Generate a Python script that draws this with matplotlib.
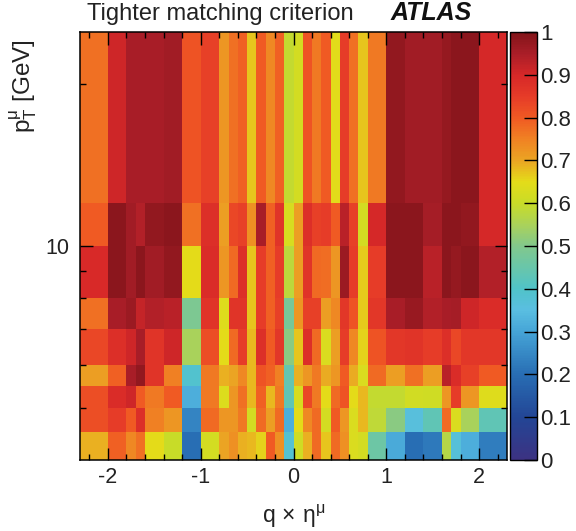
import numpy as np
import matplotlib
matplotlib.use("Agg")
import matplotlib.pyplot as plt
from matplotlib.colors import LinearSegmentedColormap
from matplotlib.ticker import FixedLocator, FixedFormatter, NullFormatter

plt.rcParams['font.family'] = ['Liberation Sans', 'DejaVu Sans']
plt.rcParams['mathtext.fontset'] = 'custom'
plt.rcParams['mathtext.rm'] = 'Liberation Sans'
plt.rcParams['mathtext.it'] = 'Liberation Sans'
plt.rcParams['mathtext.default'] = 'rm'

eta_edges = [-2.3, -2.0, -1.8, -1.7, -1.6, -1.4, -1.2, -1.0, -0.8, -0.7, -0.6, -0.5, -0.4, -0.3, -0.2, -0.1, 0.0,
             0.1, 0.2, 0.3, 0.4, 0.5, 0.6, 0.7, 0.8, 1.0, 1.2, 1.4, 1.6, 1.7, 1.8, 2.0, 2.3]
pt_edges = [4, 4.5, 5, 5.5, 6, 7, 8, 10, 12, 25]

# efficiency per pt bin
pt_4_45 = [.69, .79, .74, .77, .65, .60, .20, .62, .70, .73, .69, .68, .66, .80, .73, .38,
           .61, .69, .78, .67, .78, .73, .63, .62, .46, .31, .20, .22, .57, .37, .32, .23]
pt_45_5 = [.82, .85, .80, .88, .75, .72, .24, .78, .72, .72, .76, .62, .78, .71, .78, .32,
           .65, .74, .78, .62, .80, .72, .63, .68, .585, .51, .36, .43, .78, .63, .55, .43]
pt_5_55 = [.82, .89, .91, .80, .76, .80, .32, .76, .635, .72, .77, .68, .79, .68, .76, .43,
           .625, .83, .76, .65, .78, .81, .65, .68, .59, .59, .615, .61, .72, .85, .72, .64]
pt_55_6 = [.71, .79, .95, .98, .87, .75, .39, .76, .69, .70, .74, .68, .81, .79, .75, .44,
           .69, .72, .76, .695, .72, .80, .695, .63, .78, .71, .77, .71, .93, .89, .84, .80]
pt_6_7 = [.83, .88, .91, .95, .87, .91, .55, .82, .65, .78, .85, .68, .88, .80, .86, .51,
          .67, .88, .78, .63, .71, .85, .74, .66, .81, .86, .87, .85, .88, .83, .86, .86]
pt_7_8 = [.77, .95, .965, .92, .94, .93, .49, .87, .64, .87, .87, .67, .85, .79, .84, .48,
          .72, .84, .84, .71, .74, .86, .81, .665, .86, .95, .97, .94, .95, .955, .91, .89]
pt_8_10 = [.895, .985, .96, .985, .96, .98, .65, .89, .72, .78, .88, .67, .85, .79, .85, .58,
           .71, .87, .78, .775, .72, .965, .85, .665, .85, .985, .985, .93, .985, .975, .985, .94]
pt_10_12 = [.80, .985, .96, .94, .98, .985, .77, .88, .71, .83, .84, .73, .95, .79, .87, .625,
            .71, .88, .84, .85, .80, .93, .84, .62, .90, .985, .985, .955, .985, .985, .98, .90]
pt_12_25 = [.77, .91, .95, .95, .95, .96, .81, .84, .72, .77, .79, .67, .80, .74, .79, .59,
            .62, .81, .76, .80, .645, .85, .77, .67, .76, .98, .96, .96, .975, .985, .985, .90]

palette_pos = [0, .1, .2, .3, .35, .4, .5, .55, .6, .65, .7, .75, .8, .85, .9, .95, 1]
palette_rgb = ['#3c3282', '#234696', '#286eb4', '#46a5d7', '#5abee1', '#50c3c8', '#82c88c', '#aad25a',
               '#c8dc28', '#e4dc19', '#eba523', '#f08223', '#f05a23', '#e63c28', '#d72828', '#aa1e28', '#821419']
cmap = LinearSegmentedColormap.from_list('atlas', list(zip(palette_pos, palette_rgb)), N=256)

eff = np.array([pt_4_45, pt_45_5, pt_5_55, pt_55_6, pt_6_7, pt_7_8, pt_8_10, pt_10_12, pt_12_25])

W, H = 576, 531
fig = plt.figure(figsize=(W / 100, H / 100), dpi=100)
ax = fig.add_axes([80 / W, 1 - 460 / H, 427 / W, 428 / H])
cax = fig.add_axes([510 / W, 1 - 460 / H, 27 / W, 428 / H])

mesh = ax.pcolormesh(eta_edges, pt_edges, eff, cmap=cmap, vmin=0, vmax=1, linewidth=0, rasterized=True)
ax.set_yscale('log')
ax.set_xlim(-2.3, 2.3)
ax.set_ylim(4, 25)

ax.xaxis.set_major_locator(FixedLocator([-2, -1, 0, 1, 2]))
ax.xaxis.set_major_formatter(FixedFormatter(['-2', '-1', '0', '1', '2']))
ax.xaxis.set_minor_locator(FixedLocator(np.arange(-22, 23, 2) / 10))
ax.yaxis.set_major_locator(FixedLocator([10]))
ax.yaxis.set_major_formatter(FixedFormatter(['10']))
ax.yaxis.set_minor_locator(FixedLocator([5, 6, 7, 8, 9, 20]))
ax.yaxis.set_minor_formatter(NullFormatter())
ax.tick_params(which='major', direction='in', top=True, right=True, length=9, width=1, labelsize=15.5, pad=5,
               labelcolor='#222222')
ax.tick_params(axis='y', which='major', pad=8)
ax.tick_params(which='minor', direction='in', top=True, right=True, length=4.5, width=1)
for s in ax.spines.values():
    s.set_linewidth(1.1)

ax.set_xlabel(r'q$\,\times\,\eta^{\mu}$', fontsize=16.5, labelpad=11, color='#222222')
ax.set_ylabel(r'p$_{\mathrm{T}}^{\mu}$ [GeV]', fontsize=17.5, y=0.982, ha='right', labelpad=4, color='#222222')
fig.text(87 / W, 1 - 20 / H, 'Tighter matching criterion', fontsize=17, color='#222222', va='baseline')
fig.text(391 / W, 1 - 20 / H, 'ATLAS', fontsize=18, fontweight='bold', style='italic', color='#111111', va='baseline')

cb = fig.colorbar(mesh, cax=cax)
cb.set_ticks(np.arange(0, 11) / 10)
cb.set_ticklabels(['0', '0.1', '0.2', '0.3', '0.4', '0.5', '0.6', '0.7', '0.8', '0.9', '1'])
cax.tick_params(direction='in', length=9.5, width=1, labelsize=16, pad=2, right=True, left=False, labelcolor='#222222')
cb.outline.set_linewidth(1)

fig.savefig('out.png', dpi=100)
